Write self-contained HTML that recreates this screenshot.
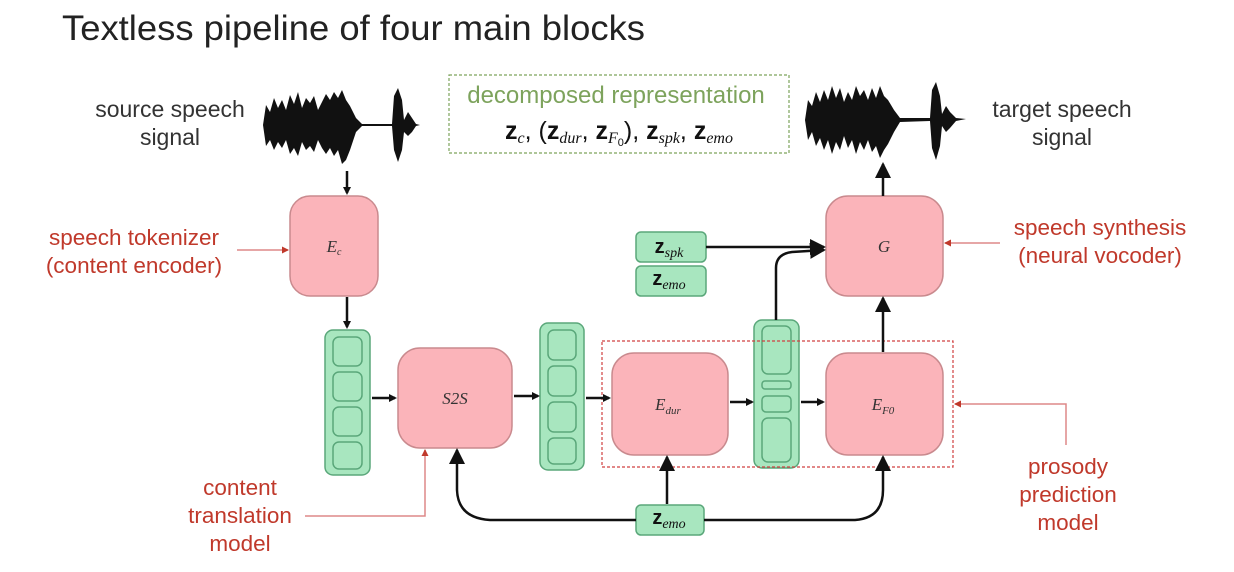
<!DOCTYPE html>
<html><head><meta charset="utf-8"><style>
html,body{margin:0;padding:0;background:#fff;}
svg{display:block;}
text{font-family:"Liberation Sans",sans-serif;}
.m{font-family:"Liberation Serif",serif;font-style:italic;}
</style></head><body>
<svg width="1234" height="572" viewBox="0 0 1234 572" xmlns="http://www.w3.org/2000/svg">
<defs>
<marker id="ah" markerWidth="8" markerHeight="8" refX="6" refY="4" orient="auto" markerUnits="userSpaceOnUse"><path d="M0,0 L8,4 L0,8 z" fill="#111"/></marker>
<marker id="ahb" markerWidth="16" markerHeight="16" refX="14" refY="8" orient="auto" markerUnits="userSpaceOnUse"><path d="M0,0 L16,8 L0,16 z" fill="#111"/></marker>
<marker id="ar" markerWidth="7" markerHeight="7" refX="6" refY="3.5" orient="auto" markerUnits="userSpaceOnUse"><path d="M0,0 L7,3.5 L0,7 z" fill="#c0392b"/></marker>
</defs>
<text x="62" y="40" font-size="35" fill="#222" textLength="583" lengthAdjust="spacingAndGlyphs">Textless pipeline of four main blocks</text>

<g font-size="23" fill="#333" text-anchor="middle">
<text x="170" y="117">source speech</text>
<text x="170" y="145">signal</text>
<text x="1062" y="117">target speech</text>
<text x="1062" y="145">signal</text>
</g>

<g fill="#111">
<path d="M263,125 L266,105 270,112 274,98 278,108 282,100 286,110 290,95 294,104 298,92 302,108 306,98 310,103 314,96 318,110 322,102 326,94 330,100 334,92 338,98 342,90 346,100 350,106 356,118 362,124 392,124 394,96 398,88 402,100 404,120 408,112 412,118 416,124 420,125 416,126 412,132 408,136 404,132 402,150 398,162 394,150 392,126 362,126 356,132 350,150 346,160 342,164 338,150 334,156 330,148 326,154 322,148 318,140 314,152 310,146 306,150 302,142 298,156 294,148 290,154 286,140 282,148 278,142 274,150 270,140 266,146 z"/>
<path d="M805,120 L808,100 812,106 816,92 820,102 824,90 828,100 832,86 836,98 840,88 844,102 848,92 852,100 856,86 860,96 864,90 868,100 872,88 876,98 880,86 884,96 888,100 894,110 900,118 930,118 932,90 936,82 940,96 942,114 946,106 950,112 956,118 966,119 956,121 950,128 946,132 942,126 940,146 936,160 932,148 930,121 900,122 894,132 888,144 884,150 880,158 876,146 872,152 868,140 864,150 860,142 856,154 852,140 848,148 844,136 840,150 836,142 832,154 828,140 824,150 820,138 816,146 812,132 808,140 z"/>
</g>

<rect x="449" y="75" width="340" height="78" fill="none" stroke="#7da35c" stroke-width="1.2" stroke-dasharray="3,2"/>
<text x="616" y="103" font-size="24" fill="#7da35c" text-anchor="middle">decomposed representation</text>
<text x="619" y="139" font-size="25" fill="#111" text-anchor="middle" font-family="Liberation Serif,serif"><tspan font-weight="bold">z</tspan><tspan class="m" font-size="16" dy="4">c</tspan><tspan dy="-4">, (</tspan><tspan font-weight="bold">z</tspan><tspan class="m" font-size="16" dy="4">dur</tspan><tspan dy="-4">, </tspan><tspan font-weight="bold">z</tspan><tspan class="m" font-size="16" dy="4">F</tspan><tspan font-size="11" dy="3">0</tspan><tspan dy="-7">), </tspan><tspan font-weight="bold">z</tspan><tspan class="m" font-size="16" dy="4">spk</tspan><tspan dy="-4">, </tspan><tspan font-weight="bold">z</tspan><tspan class="m" font-size="16" dy="4">emo</tspan></text>

<g fill="#fbb4ba" stroke="#c98a8e" stroke-width="1.5">
<rect x="290" y="196" width="88" height="100" rx="20"/>
<rect x="398" y="348" width="114" height="100" rx="22"/>
<rect x="612" y="353" width="116" height="102" rx="22"/>
<rect x="826" y="353" width="117" height="102" rx="22"/>
<rect x="826" y="196" width="117" height="100" rx="22"/>
</g>
<g font-size="17" fill="#333" class="m" text-anchor="middle">
<text x="334" y="252" class="m">E<tspan font-size="10" dy="3">c</tspan></text>
<text x="455" y="404" class="m">S2S</text>
<text x="668" y="410" class="m">E<tspan font-size="11" dy="4">dur</tspan></text>
<text x="883" y="410" class="m">E<tspan font-size="11" dy="4">F0</tspan></text>
<text x="884" y="252" class="m">G</text>
</g>

<g fill="#a8e6bf" stroke="#5aa77a" stroke-width="1.5">
<rect x="325" y="330" width="45" height="145" rx="8"/>
<rect x="540" y="323" width="44" height="147" rx="8"/>
<rect x="754" y="320" width="45" height="148" rx="8"/>
<rect x="333" y="337" width="29" height="29" rx="6"/>
<rect x="333" y="372" width="29" height="29" rx="6"/>
<rect x="333" y="407" width="29" height="29" rx="6"/>
<rect x="333" y="442" width="29" height="27" rx="6"/>
<rect x="548" y="330" width="28" height="30" rx="6"/>
<rect x="548" y="366" width="28" height="30" rx="6"/>
<rect x="548" y="402" width="28" height="30" rx="6"/>
<rect x="548" y="438" width="28" height="26" rx="6"/>
<rect x="762" y="326" width="29" height="48" rx="6"/>
<rect x="762" y="381" width="29" height="8" rx="3"/>
<rect x="762" y="396" width="29" height="16" rx="4"/>
<rect x="762" y="418" width="29" height="44" rx="6"/>
<rect x="636" y="232" width="70" height="30" rx="5"/>
<rect x="636" y="266" width="70" height="30" rx="5"/>
<rect x="636" y="505" width="68" height="30" rx="5"/>
</g>
<g font-size="20" fill="#111" font-family="Liberation Serif,serif" text-anchor="middle">
<text x="669" y="253"><tspan font-weight="bold">z</tspan><tspan class="m" font-size="14" dy="4">spk</tspan></text>
<text x="669" y="285"><tspan font-weight="bold">z</tspan><tspan class="m" font-size="14" dy="4">emo</tspan></text>
<text x="669" y="524"><tspan font-weight="bold">z</tspan><tspan class="m" font-size="14" dy="4">emo</tspan></text>
</g>

<rect x="602" y="341" width="351" height="126" fill="none" stroke="#d04040" stroke-width="1.2" stroke-dasharray="3,2"/>

<g stroke="#111" stroke-width="2.5" fill="none" marker-end="url(#ah)">
<line x1="347" y1="171" x2="347" y2="193"/>
<line x1="347" y1="297" x2="347" y2="327"/>
<line x1="372" y1="398" x2="395" y2="398"/>
<line x1="514" y1="396" x2="538" y2="396"/>
<line x1="586" y1="398" x2="609" y2="398"/>
<line x1="730" y1="402" x2="752" y2="402"/>
<line x1="801" y1="402" x2="823" y2="402"/>
</g>
<g stroke="#111" stroke-width="2.5" fill="none" marker-end="url(#ahb)">
<line x1="883" y1="352" x2="883" y2="298"/>
<line x1="883" y1="196" x2="883" y2="164"/>
<line x1="706" y1="247" x2="824" y2="247"/>
<path d="M776,320 L776,268 Q776,254 792,252 L824,250"/>
<line x1="667" y1="504" x2="667" y2="457"/>
<path d="M636,520 L490,520 Q458,518 457,490 L457,450"/>
<path d="M704,520 L855,520 Q883,518 883,490 L883,457"/>
</g>

<g font-size="22.5" fill="#c0392b" text-anchor="middle">
<text x="134" y="245">speech tokenizer</text>
<text x="134" y="273">(content encoder)</text>
<text x="1100" y="235">speech synthesis</text>
<text x="1100" y="263">(neural vocoder)</text>
<text x="1068" y="474">prosody</text>
<text x="1068" y="502">prediction</text>
<text x="1068" y="530">model</text>
<text x="240" y="495">content</text>
<text x="240" y="523">translation</text>
<text x="240" y="551">model</text>
</g>
<g stroke="#d88" stroke-width="1.5" fill="none" marker-end="url(#ar)">
<line x1="237" y1="250" x2="288" y2="250"/>
<line x1="1000" y1="243" x2="945" y2="243"/>
<path d="M1066,445 L1066,404 L955,404"/>
<path d="M305,516 L425,516 L425,450"/>
</g>
</svg>
</body></html>
